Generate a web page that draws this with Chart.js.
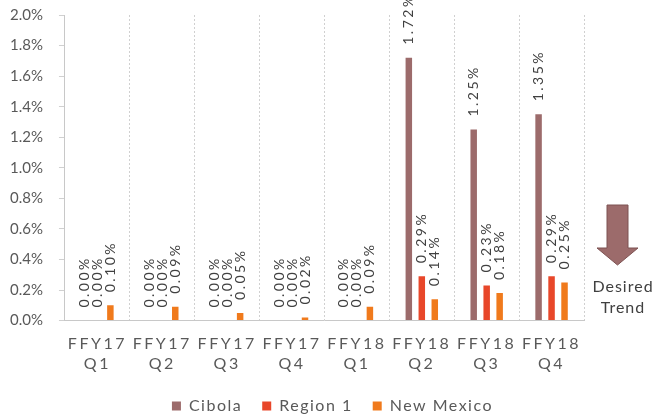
<!DOCTYPE html>
<html>
<head>
<meta charset="utf-8">
<script src="https://cdn.jsdelivr.net/npm/chart.js@4/dist/chart.umd.min.js"></script>
<style>
  html, body { margin: 0; padding: 0; background: #fff; }
  #wrap { width: 655px; height: 418px; }
</style>
</head>
<body>
<div id="wrap"><canvas id="chart"></canvas></div>
<script>
const quarters = [["FFY17", "Q1"], ["FFY17", "Q2"], ["FFY17", "Q3"], ["FFY17", "Q4"],
                  ["FFY18", "Q1"], ["FFY18", "Q2"], ["FFY18", "Q3"], ["FFY18", "Q4"]];
const cibola = [0.00, 0.00, 0.00, 0.00, 0.00, 1.72, 1.25, 1.35];
const region1 = [0.00, 0.00, 0.00, 0.00, 0.00, 0.29, 0.23, 0.29];
const newMexico = [0.10, 0.09, 0.05, 0.02, 0.09, 0.14, 0.18, 0.25];

const FONT = "Lato, 'Liberation Sans', sans-serif";

// wrap some of a box's methods so its text is drawn/measured with letter spacing
function spaceOut(chart, box, methods, spacing, shiftX = 0) {
  if (!box || box._spaced) return;
  box._spaced = true;
  methods.forEach(m => {
    const orig = box[m];
    box[m] = function (...args) {
      const ctx = chart.ctx;
      const prev = ctx.letterSpacing;
      ctx.save();
      ctx.letterSpacing = spacing;
      if (m === "draw" && shiftX) ctx.translate(shiftX, 0);
      try { return orig.apply(this, args); } finally { ctx.restore(); ctx.letterSpacing = prev; }
    };
  });
}

const spacing = {
  id: "spacing",
  beforeLayout(chart) {
    spaceOut(chart, chart.scales.x, ["update", "draw"], "2.5px");
    spaceOut(chart, chart.legend, ["fit", "draw"], "1.5px", 8);
  }
};

// rotated value labels above each bar
const barLabels = {
  id: "barLabels",
  afterDatasetsDraw(chart) {
    const ctx = chart.ctx;
    ctx.save();
    ctx.font = "14px " + FONT;
    ctx.letterSpacing = "2.5px";
    ctx.fillStyle = "#404040";
    ctx.textAlign = "left";
    ctx.textBaseline = "middle";
    chart.data.datasets.forEach((ds, i) => {
      chart.getDatasetMeta(i).data.forEach((bar, j) => {
        ctx.save();
        ctx.translate(bar.x, bar.y - 13);
        ctx.rotate(-Math.PI / 2);
        ctx.fillText(ds.data[j].toFixed(2) + "%", 0, 0);
        ctx.restore();
      });
    });
    ctx.restore();
  }
};

// "Desired Trend" arrow on the right
const trendArrow = {
  id: "trendArrow",
  afterDraw(chart) {
    const ctx = chart.ctx;
    ctx.save();
    ctx.beginPath();
    ctx.moveTo(607, 205);
    ctx.lineTo(628, 205);
    ctx.lineTo(628, 248);
    ctx.lineTo(638, 248);
    ctx.lineTo(617.5, 265);
    ctx.lineTo(597, 248);
    ctx.lineTo(607, 248);
    ctx.closePath();
    ctx.fillStyle = "#9c6b6b";
    ctx.fill();
    ctx.strokeStyle = "#7d5252";
    ctx.lineWidth = 1;
    ctx.stroke();
    ctx.font = "16px " + FONT;
    ctx.letterSpacing = "1px";
    ctx.fillStyle = "#404040";
    ctx.textAlign = "center";
    ctx.textBaseline = "middle";
    ctx.fillText("Desired", 623, 287);
    ctx.fillText("Trend", 623, 308);
    ctx.restore();
  }
};

new Chart(document.getElementById("chart"), {
  type: "bar",
  data: {
    labels: quarters,
    datasets: [
      { label: "Cibola", data: cibola, backgroundColor: "#9c6b6b" },
      { label: "Region 1", data: region1, backgroundColor: "#e8472a" },
      { label: "New Mexico", data: newMexico, backgroundColor: "#f07a1c" }
    ]
  },
  options: {
    responsive: true,
    maintainAspectRatio: false,
    animation: false,
    datasets: { bar: { categoryPercentage: 0.6, barPercentage: 0.5 } },
    layout: { padding: { top: 0, right: 71, left: -6, bottom: -6 } },
    plugins: {
      tooltip: { enabled: false },
      legend: {
        position: "bottom",
        fullSize: false,
        labels: {
          boxWidth: 9, boxHeight: 9, padding: 20,
          color: "#595959",
          font: { family: FONT, size: 16 }
        }
      }
    },
    scales: {
      x: {
        grid: { color: "#d0d0d0", lineWidth: 1, tickLength: 0, drawTicks: false },
        border: { color: "#c8c8c8", dash: [2, 2] },
        afterFit(scale) { scale.height -= 9; },
        ticks: {
          autoSkip: false,
          color: "#595959",
          padding: 14,
          maxRotation: 0,
          font: { family: FONT, size: 16, lineHeight: 1.2 }
        }
      },
      y: {
        min: 0, max: 2.0,
        grid: { drawOnChartArea: false, color: "#d0d0d0", tickLength: 6 },
        border: { color: "#c8c8c8", dash: [2, 2] },
        afterFit(scale) { scale.paddingTop = 15; },
        ticks: {
          stepSize: 0.2,
          color: "#595959",
          padding: 16,
          font: { family: FONT, size: 15 },
          callback: v => v.toFixed(1) + "%"
        }
      }
    }
  },
  plugins: [spacing, barLabels, trendArrow]
});
</script>
</body>
</html>
